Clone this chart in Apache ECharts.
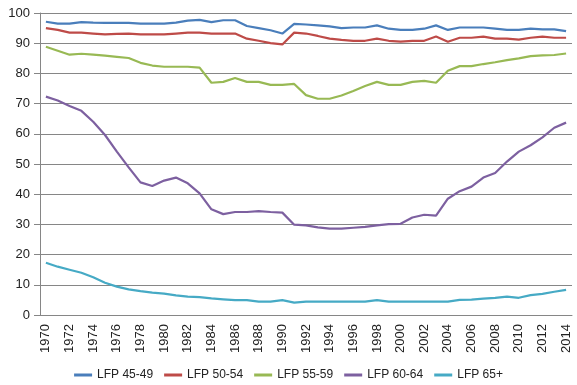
<!DOCTYPE html>
<html><head><meta charset="utf-8">
<script src="https://cdn.jsdelivr.net/npm/echarts@6/dist/echarts.min.js"></script>
<style>html,body{margin:0;padding:0;background:#fff}#c{width:577px;height:385px}</style>
</head><body><div id="c"></div>
<script>
var years = [];
for (var y = 1970; y <= 2014; y++) years.push(String(y));
var lfp4549 = [97.1,96.5,96.5,97,96.8,96.7,96.7,96.7,96.5,96.5,96.5,96.8,97.5,97.7,97,97.6,97.6,95.7,95,94.3,93.2,96.4,96.2,95.9,95.6,95,95.2,95.2,95.9,94.8,94.4,94.4,94.8,95.9,94.4,95.2,95.2,95.2,94.8,94.4,94.4,94.8,94.6,94.6,94.0];
var lfp5054 = [95.0,94.4,93.5,93.5,93.2,92.9,93.1,93.2,92.9,92.9,92.9,93.2,93.5,93.5,93.2,93.2,93.2,91.5,90.8,90.0,89.6,93.5,93.2,92.4,91.5,91.1,90.8,90.8,91.5,90.8,90.5,90.8,90.8,92.2,90.5,91.8,91.8,92.2,91.5,91.5,91.2,91.8,92.2,91.8,91.8];
var lfp5559 = [88.8,87.5,86.2,86.5,86.2,85.9,85.5,85.1,83.5,82.6,82.2,82.2,82.2,81.9,76.9,77.2,78.5,77.2,77.2,76.2,76.2,76.5,72.8,71.6,71.6,72.7,74.2,75.8,77.2,76.2,76.2,77.2,77.5,76.9,80.9,82.4,82.4,83.1,83.7,84.4,85.0,85.7,86.0,86.1,86.6];
var lfp6064 = [72.3,71.0,69.2,67.6,64.0,59.6,54.1,48.9,43.9,42.7,44.5,45.5,43.6,40.3,35.0,33.4,34.1,34.1,34.4,34.1,33.9,29.9,29.7,29.0,28.6,28.6,28.9,29.2,29.7,30.1,30.2,32.3,33.2,32.9,38.5,41.0,42.5,45.5,47.0,50.8,54.1,56.2,58.8,62.0,63.7];
var lfp65 = [17.3,16.0,15.0,14.0,12.5,10.7,9.4,8.5,7.9,7.4,7.1,6.5,6.1,5.9,5.5,5.2,4.9,4.9,4.4,4.4,4.9,4.1,4.4,4.4,4.4,4.4,4.4,4.4,4.9,4.4,4.4,4.4,4.4,4.4,4.4,5.0,5.1,5.4,5.7,6.1,5.7,6.6,7.0,7.7,8.3];
var seriesNames = ['LFP 45-49','LFP 50-54','LFP 55-59','LFP 60-64','LFP 65+'];
var seriesData = [lfp4549, lfp5054, lfp5559, lfp6064, lfp65];
var colors = ['#4A7EBB','#BE4B48','#98B954','#7D60A0','#46AAC5'];
var font = 'Liberation Sans';
var chart = echarts.init(document.getElementById('c'));
chart.setOption({
  animation: false,
  color: colors,
  grid: {left: 40, right: 5, top: 13, bottom: 70},
  legend: {
    top: 364, left: 'center', icon: 'rect', itemWidth: 18, itemHeight: 3, itemGap: 11,
    textStyle: {fontFamily: font, fontSize: 12, color: '#222'},
    data: seriesNames
  },
  xAxis: {
    type: 'category', data: years, boundaryGap: true,
    axisLine: {lineStyle: {color: '#868686'}},
    axisTick: {interval: 0, length: 4, lineStyle: {color: '#868686'}},
    axisLabel: {interval: 1, rotate: 90, fontFamily: font, fontSize: 13, color: '#222', margin: 9}
  },
  yAxis: {
    type: 'value', min: 0, max: 100, interval: 10,
    axisLine: {show: true, lineStyle: {color: '#868686'}},
    axisTick: {show: true, length: 6, lineStyle: {color: '#868686'}},
    axisLabel: {fontFamily: font, fontSize: 13, color: '#222', margin: 10},
    splitLine: {lineStyle: {color: '#868686'}}
  },
  series: seriesNames.map(function(n, i){
    return {name: n, type: 'line', data: seriesData[i], symbol: 'none', lineStyle: {width: 2.2}};
  })
});
</script></body></html>
